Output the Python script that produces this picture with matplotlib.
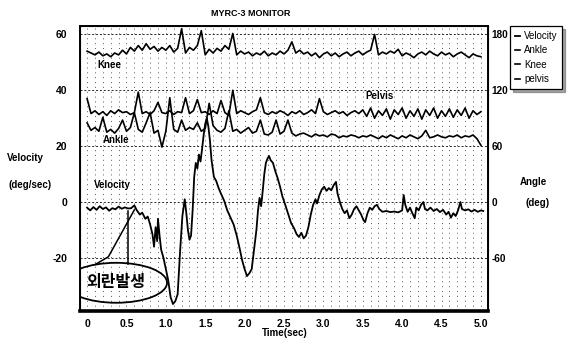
import numpy as np
import matplotlib
matplotlib.use("Agg")
import matplotlib.pyplot as plt
from matplotlib.patches import Ellipse

plt.rcParams['font.family'] = ['Liberation Sans', 'Noto Sans CJK KR', 'DejaVu Sans']
plt.rcParams['axes.unicode_minus'] = False

# time grid for the angle traces (sec)
angle_t = [round(i * 0.05, 2) for i in range(101)]

# knee angle (deg), right axis
knee = [162, 160, 158, 161, 157, 159, 156, 160, 158, 163,
        159, 166, 162, 168, 163, 170, 164, 167, 162, 166,
        163, 168, 161, 165, 186, 160, 166, 163, 168, 184,
        158, 164, 160, 165, 162, 168, 164, 181, 158, 162,
        159, 161, 157, 160, 158, 162, 157, 160, 158, 162,
        159, 163, 172, 160, 163, 159, 161, 157, 160, 155,
        159, 161, 157, 160, 156, 159, 161, 157, 160, 162,
        158, 161, 163, 180, 158, 161, 159, 162, 160, 164,
        157, 160, 158, 155, 159, 161, 158, 162, 159, 157,
        161, 158, 160, 156, 159, 161, 158, 155, 159, 157,
        156]

# pelvis angle (deg)
pelvis = [111, 95, 98, 94, 97, 93, 98, 95, 99, 96,
          97, 94, 96, 118, 95, 97, 94, 98, 107, 96,
          95, 98, 94, 97, 96, 112, 95, 98, 110, 96,
          97, 94, 98, 95, 109, 96, 93, 120, 95, 98,
          96, 94, 97, 99, 112, 96, 94, 97, 95, 98,
          96, 93, 97, 95, 98, 94, 96, 99, 95, 111,
          97, 94, 96, 98, 95, 97, 93, 96, 98, 95,
          99, 92, 101, 90, 98, 93, 100, 89, 99, 94,
          101, 90, 98, 92, 100, 89, 99, 93, 101, 90,
          98, 92, 100, 91, 99, 93, 101, 90, 98, 94,
          97]

# ankle angle (deg)
ankle = [85, 77, 80, 76, 91, 75, 78, 74, 79, 88,
         76, 80, 96, 78, 75, 85, 96, 74, 77, 59,
         76, 112, 78, 75, 88, 77, 80, 78, 85, 76,
         79, 106, 82, 77, 75, 79, 98, 76, 78, 74,
         77, 80, 74, 76, 88, 73, 72, 75, 88, 73,
         76, 88, 74, 71, 73, 74, 72, 70, 73, 71,
         72, 70, 73, 72, 69, 71, 70, 72, 71, 69,
         71, 70, 72, 70, 68, 71, 69, 72, 70, 68,
         71, 69, 72, 70, 68, 71, 77, 69, 70, 72,
         70, 69, 71, 70, 72, 69, 71, 70, 72, 68,
         61]

# joint velocity (deg/sec), left axis
vel_t = [0.00, 0.04, 0.08, 0.12, 0.16, 0.20, 0.24, 0.28, 0.32, 0.36,
         0.40, 0.44, 0.48, 0.52, 0.56, 0.60, 0.63, 0.67, 0.70, 0.74,
         0.77, 0.80, 0.83, 0.85, 0.87, 0.89, 0.90, 0.92, 0.94, 0.97,
         1.00, 1.03, 1.06, 1.09, 1.12, 1.15, 1.18, 1.21, 1.24, 1.26,
         1.28, 1.30, 1.32, 1.34, 1.36, 1.38, 1.40, 1.42, 1.44, 1.46,
         1.48, 1.50, 1.52, 1.54, 1.56, 1.58, 1.61, 1.64, 1.67, 1.70,
         1.74, 1.78, 1.82, 1.86, 1.90, 1.94, 1.97, 2.00, 2.03, 2.06,
         2.09, 2.12, 2.15, 2.17, 2.19, 2.21, 2.23, 2.25, 2.27, 2.29,
         2.31, 2.33, 2.36, 2.39, 2.42, 2.45, 2.48, 2.51, 2.55, 2.59,
         2.63, 2.66, 2.69, 2.72, 2.75, 2.78, 2.81, 2.84, 2.87, 2.90,
         2.92, 2.95, 2.98, 3.01, 3.04, 3.07, 3.10, 3.13, 3.16, 3.18,
         3.21, 3.24, 3.27, 3.30, 3.33, 3.36, 3.39, 3.42, 3.45, 3.48,
         3.51, 3.53, 3.56, 3.59, 3.62, 3.65, 3.68, 3.71, 3.75, 3.80,
         3.85, 3.90, 3.95, 4.00, 4.02, 4.04, 4.07, 4.10, 4.13, 4.16,
         4.18, 4.21, 4.24, 4.27, 4.29, 4.32, 4.36, 4.40, 4.44, 4.48,
         4.52, 4.56, 4.59, 4.62, 4.65, 4.68, 4.71, 4.74, 4.76, 4.80,
         4.84, 4.88, 4.92, 4.96, 5.00, 5.03]
vel = [-2.0, -3.0, -1.8, -2.8, -1.5, -2.5, -1.9, -3.1, -2.2, -2.6,
       -1.6, -2.4, -1.9, -2.3, -2.2, -1.2, -2.9, -4.5, -3.8, -6.0,
       -5.2, -8.0, -11.5, -16.0, -9.0, -14.0, -6.0, -12.0, -17.0, -20.0,
       -24.0, -28.0, -34.0, -36.5, -35.5, -33.0, -18.0, -5.0, 1.0, -4.0,
       -10.0, -13.5, -12.0, -3.0, 9.0, 14.0, 12.0, 17.0, 14.5, 19.0,
       24.0, 28.0, 30.0, 27.0, 22.0, 15.0, 9.0, 7.5, 5.0, 3.0,
       0.5, -3.0, -5.5, -8.0, -12.0, -17.0, -21.0, -24.0, -26.5, -25.5,
       -24.0, -17.0, -10.0, -3.0, 1.5, -1.5, 4.0, 10.0, 14.0, 15.5,
       16.5, 15.0, 14.0, 11.0, 8.5, 5.5, 2.0, -0.5, -4.0, -7.5,
       -9.5, -11.5, -12.5, -11.0, -13.0, -12.0, -9.0, -4.5, -1.0, 1.0,
       -0.5, 2.5, 4.5, 5.5, 4.0, 5.0, 4.2, 6.0, 7.2, 3.0,
       0.0, -2.5, -4.0, -3.0, -5.8, -4.5, -2.5, -1.5, -3.0, -4.5,
       -6.5, -7.2, -4.0, -2.0, -2.8, -1.5, -1.0, -2.5, -3.5, -3.2,
       -3.6, -3.4, -3.7, -3.0, 2.5, -1.0, -3.5, -2.0, -4.0, -5.8,
       -2.0, -3.0, -1.0, 0.0, -2.5, -3.0, -2.0, -3.2, -2.5, -3.6,
       -2.8, -4.5, -3.5, -5.6, -4.0, -5.0, -3.0, 0.0, -2.5, -3.0,
       -2.6, -3.4, -2.8, -3.5, -3.0, -3.2]

x_ticks = [0, 0.5, 1.0, 1.5, 2.0, 2.5, 3.0, 3.5, 4.0, 4.5, 5.0]
x_labels = ['0', '0.5', '1.0', '1.5', '2.0', '2.5', '3.0', '3.5', '4.0', '4.5', '5.0']
vel_ticks = [-20, 0, 20, 40, 60]
angle_ticks = [-60, 0, 60, 120, 180]

fig = plt.figure(figsize=(5.69, 3.5), dpi=100)
ax = fig.add_axes([0.1406, 0.1114, 0.717, 0.8143])
ax2 = ax.twinx()

ax.set_xlim(-0.09, 5.09)
ax.set_ylim(-39, 63)
ax2.set_ylim(-117, 189)

# dotted chart grid
for gx in np.arange(0, 5.05, 0.1):
    ax.axvline(gx, color='0.35', lw=0.7, ls=(0, (1, 4)), zorder=0)
for gy in vel_ticks:
    ax.axhline(gy, color='0.15', lw=0.7, ls=(0, (2, 2)), zorder=0)

ax.plot(vel_t, vel, color='black', lw=1.3, label='Velocity')
ax2.plot(angle_t, ankle, color='black', lw=1.2, label='Ankle')
ax2.plot(angle_t, knee, color='black', lw=1.2, label='Knee')
ax2.plot(angle_t, pelvis, color='black', lw=1.2, label='pelvis')

lab = dict(fontsize=7, fontweight='bold')
ax.text(0.13, 48, 'Knee', **lab)
ax.text(3.53, 37, 'Pelvis', **lab)
ax.text(0.20, 21, 'Ankle', **lab)
ax.text(0.09, 5, 'Velocity', **lab)

# disturbance callout
ax.add_patch(Ellipse((0.37, -28.9), 1.29, 14.3, fill=False, ec='black', lw=1.3, zorder=5))
ax.plot([0.10, 0.27, 0.60], [-22.4, -19.6, -2.8], color='black', lw=1.1, zorder=5)
ax.plot([0.52, 0.52], [-3.2, -22.2], color='black', lw=1.1, zorder=5)
ax.text(0.37, -28.9, '외란발생', ha='center', va='center', fontsize=11.5,
        fontweight='bold', zorder=6)

ax.set_xticks(x_ticks)
ax.set_xticklabels(x_labels)
ax.set_yticks(vel_ticks)
ax2.set_yticks(angle_ticks)
ax.tick_params(axis='both', length=0, labelsize=7.5)
ax.tick_params(axis='y', pad=9)
ax.tick_params(axis='x', pad=6)
ax2.tick_params(axis='y', length=0, labelsize=7.2, pad=2.5)
for t in ax.get_xticklabels() + ax.get_yticklabels() + ax2.get_yticklabels():
    t.set_fontweight('bold')

for s in ['top', 'right', 'left']:
    ax2.spines[s].set_linewidth(1.4)
ax2.spines['bottom'].set_linewidth(2.6)

fig.text(0.44, 0.96, 'MYRC-3 MONITOR', ha='center', va='center', fontsize=6.5, fontweight='bold')
fig.text(0.044, 0.549, 'Velocity', ha='center', va='center', fontsize=7, fontweight='bold')
fig.text(0.053, 0.471, '(deg/sec)', ha='center', va='center', fontsize=7, fontweight='bold')
fig.text(0.938, 0.48, 'Angle', ha='center', va='center', fontsize=7, fontweight='bold')
fig.text(0.944, 0.42, '(deg)', ha='center', va='center', fontsize=7, fontweight='bold')
fig.text(0.50, 0.049, 'Time(sec)', ha='center', va='center', fontsize=7, fontweight='bold')

h1, l1 = ax.get_legend_handles_labels()
h2, l2 = ax2.get_legend_handles_labels()
leg = fig.legend(h1 + h2, l1 + l2, loc='upper left', bbox_to_anchor=(0.897, 0.925),
                 fontsize=7, handlelength=0.5, handletextpad=0.4, borderpad=0.5,
                 labelspacing=0.45, fancybox=False, shadow=True, edgecolor='black',
                 borderaxespad=0)
leg.get_frame().set_linewidth(0.9)

fig.savefig('out.png', dpi=100)
